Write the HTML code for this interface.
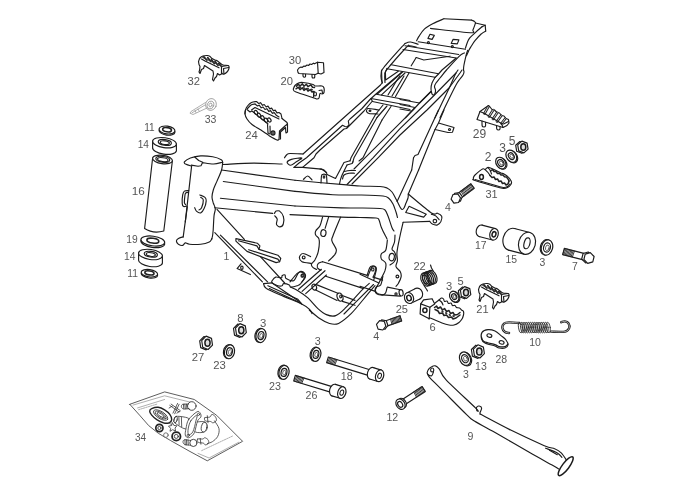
<!DOCTYPE html>
<html><head><meta charset="utf-8"><title>Frame</title>
<style>html,body{margin:0;padding:0;background:#fff}body{width:700px;height:479px;overflow:hidden}svg{display:block;will-change:transform}
text{font-family:"Liberation Sans",sans-serif;fill:#555}
path,ellipse,circle,line{stroke-linecap:round;stroke-linejoin:round}
.l{fill:none;stroke:#1c1c1c;stroke-width:1.15}
.f{fill:#fff;stroke:#1c1c1c;stroke-width:1.15}
.t{fill:none;stroke:#333;stroke-width:.8}
.ft{fill:#fff;stroke:#333;stroke-width:.8}
.g{fill:none;stroke:#9a9a9a;stroke-width:.8}
.k{fill:#333;stroke:none}
</style></head><body>
<svg width="700" height="479" viewBox="0 0 700 479">
<path class="l" d="M191.6,166.1 C190.7,165.8 187.3,165 186.1,164.3 C184.9,163.7 183.7,163 184.4,161.9 C185.1,160.9 187.7,159 190.4,158 C193.1,157 197,156.1 200.7,155.9 C204.4,155.7 209.3,156.2 212.7,156.8 C216.1,157.4 219.6,158.8 221.3,159.7 C222.9,160.6 222.4,161.9 222.7,162.3"/>
<path class="l" d="M194.7,157 L198.7,160.5 L202.7,162.2 L201,165.7 L198.1,166.2 L191.2,165.1"/>
<path class="l" d="M202.5,162.6 C204.3,162.8 210.3,164.1 213.6,164 C216.9,163.9 220.9,162.6 222.3,162.3"/>
<path class="l" d="M191.6,166.1 L185.3,221.9"/>
<path class="l" d="M222.7,162.3 C222.5,163.6 222.5,166.9 221.6,170 C220.7,173.1 218.4,177.8 217,181.1 C215.6,184.4 214.1,187.3 213.3,190 C212.5,192.7 212,194.8 212,197 C212,199.2 212.8,201 213.3,203 C213.9,205 215.2,206.7 215.3,208.9 C215.4,211.1 214.3,212.5 214,216 C213.7,219.5 213.4,226.7 213.2,230 C212.9,233.3 212.8,234.4 212.5,236 C212.2,237.6 211.8,238.9 211.6,239.5"/>
<path class="l" d="M187.3,206.9 L183.2,236.9"/>
<path class="l" d="M183.2,236.9 C182.4,237.1 179.6,237.9 178.4,238.6 C177.3,239.3 176.4,240.2 176.4,241.1 C176.4,242.1 177.4,243.5 178.4,244.2 C179.5,244.9 181.6,245.7 182.7,245.4 C183.9,245.2 184.1,243.1 185.3,242.9 C186.4,242.7 187,244 189.6,244.2 C192.1,244.5 197.4,244.6 200.7,244.2 C204,243.9 207.4,242.9 209.3,242 C211.1,241.1 211.4,239.1 211.9,238.6"/>
<path class="l" d="M188.7,190.6 C188,190.7 185.4,190.4 184.4,191.1 C183.4,191.8 183.1,192.8 182.7,194.9 C182.3,196.9 182.1,201.5 182.2,203.4 C182.3,205.4 182.8,206.1 183.6,206.5 C184.4,206.9 186.4,206.1 187,206"/>
<path class="l" d="M188.4,192.3 C187.9,192.4 186.2,192.4 185.6,193.1 C185,193.9 185,195 184.8,196.6 C184.6,198.1 184.3,201.2 184.4,202.6 C184.6,203.9 185.4,204.4 185.6,204.8"/>
<path class="l" d="M199.9,194.9 C200.7,195.3 203.9,196.4 205,197.4 C206.1,198.4 206.3,199 206.2,200.9 C206.1,202.7 205.1,206.6 204.1,208.6 C203.2,210.6 202,212.4 200.7,212.9 C199.4,213.3 197.4,212 196.4,211.1 C195.4,210.3 195,208.3 194.7,207.7"/>
<path class="l" d="M200.7,197.4 C201.1,197.9 203.1,198.3 203.3,200 C203.4,201.7 202.3,206.1 201.6,207.7 C200.9,209.4 199.4,209.6 199,209.9"/>
<path class="l" d="M222.7,164.5 C227.9,164.3 243.9,163.2 253.9,163.1 C263.8,163.1 277.4,163.9 282.1,164"/>
<path class="l" d="M221.6,170 L295,180.3"/>
<path class="l" d="M223.3,181.5 L295,191.4"/>
<path class="l" d="M220.4,198.3 L295,206"/>
<path class="l" d="M214.8,207.7 L272.7,213.4"/>
<path class="l" d="M295,180.3 C303.6,181.1 335.8,184 346.6,184.9 C357.4,185.8 354.4,185.7 360,186 C365.6,186.3 375.5,186.2 380,186.5 C384.5,186.8 385,187.1 387,188 C389,188.9 390.5,190.2 392,192 C393.5,193.8 394.7,196.5 396,199 C397.3,201.5 399,205.2 400,207 C401,208.8 401.3,209.3 402,209.5 C402.7,209.7 403.3,209.1 404,208 C404.7,206.9 405.3,204.7 406,203 C406.7,201.3 407.6,199.5 408,198 C408.4,196.5 408.2,194.7 408.3,194"/>
<path class="l" d="M295,191.4 C301.3,191.9 322.1,194.1 332.9,194.7 C343.7,195.3 351.6,194.8 360,195 C368.4,195.2 378.2,195.4 383,196 C387.8,196.6 387.3,197.2 389,198.5 C390.7,199.8 391.8,201.8 393,204 C394.2,206.2 395.2,209.8 396,212 C396.8,214.2 397.2,216.6 397.5,217.5"/>
<path class="l" d="M217,209.4 L244.4,239.3"/>
<path class="l" d="M214.8,232.6 L262.4,281.9"/>
<path class="l" d="M220.4,235.1 L267.6,281.9"/>
<path class="l" d="M241,263.8 L237.1,268.6 L250.4,274.6"/>
<path class="f" d="M235.9,238.6 L257.3,243.2 L259.9,245.9 L259,249.4 L277.9,255.2 L280.8,258.3 L279.6,261.7 L276.1,262.6 L247,251.4 L235.9,241.1Z"/>
<ellipse class="l" cx="241.9" cy="267.7" rx="1.2" ry="1.6"/>
<path class="l" d="M274.4,213.4 C274.7,213 275.3,211.5 276.1,211.1 C277,210.8 278.4,210.3 279.6,211.1 C280.8,212 282.7,214.1 283.3,216.3 C284,218.4 283.9,222.2 283.3,224 C282.8,225.8 281.1,226.9 279.9,226.9 C278.8,227 276.9,225.6 276.5,224.3 C276,223.1 277.5,220.6 277.2,219.2 C276.9,217.8 275.2,216.3 274.8,215.8"/>
<path class="l" d="M238.4,240.8 L256.9,245.9 L259,249.4"/>
<path class="l" d="M248.7,249.7 L277.9,259.1 L279.6,261.7"/>
<path class="l" d="M411.7,170 L397.1,201.4"/>
<path class="l" d="M418.6,170 L408.3,194"/>
<path class="l" d="M408.3,194 C412.1,197.1 426.6,209.7 431.4,212.9 C436.3,216.1 435.7,212.6 437.4,213.2 C439.1,213.8 441.1,214.9 441.7,216.3 C442.3,217.7 441.6,220 440.9,221.4 C440.1,222.9 438.9,224.4 437.4,224.9 C436,225.3 433.6,224.6 432.3,224 C431,223.4 430.1,221.9 429.7,221.4"/>
<path class="l" d="M429.7,221.4 L403.1,222.3"/>
<path class="l" d="M409.1,206.3 L426.3,214.2 L423.7,217.1 L405.7,212.5Z"/>
<ellipse class="l" cx="434.9" cy="221.1" rx="1.8" ry="1.8"/>
<path class="l" d="M431.4,214.2 C432.1,214.5 434.4,215 435.7,215.9 C437,216.9 438.6,219.1 439.1,219.7"/>
<path class="l" d="M295,206 C302.7,206.3 330.6,207.6 341.4,207.9 C352.2,208.2 353.6,207.9 360,208 C366.4,208.1 375.8,208.2 380,208.5 C384.2,208.8 383.7,208.8 385,210 C386.3,211.2 386.8,213 388,216 C389.2,219 391,225.3 392,227.8 C393,230.3 393.7,230.5 394,231"/>
<path class="l" d="M395,235 C394.9,236.2 395,239.7 394.5,242 C394,244.3 392,247.3 392,249 C392,250.7 393.8,250.7 394.5,252 C395.2,253.3 396.1,255.3 396,257 C395.9,258.7 395,260.7 394,262 C393,263.3 390.7,264.5 390,265"/>
<path class="l" d="M290,214.6 C298.6,215 329.7,216.6 341.4,217.1 C353.1,217.6 354.2,217.3 360,217.5 C365.8,217.7 372.8,217.6 376,218 C379.2,218.4 378.1,218.4 379,220 C379.9,221.6 380.2,224.6 381.5,227.8 C382.8,231 386.1,237.1 387,239"/>
<path class="l" d="M322.6,217.1 C322.1,218.6 321.1,223.4 320,225.7 C318.9,228 316.4,229.3 315.7,230.9 C315,232.4 315.1,233.7 315.7,235.1 C316.3,236.6 318.7,236.7 319.1,239.4 C319.6,242.1 319,248 318.3,251.4 C317.6,254.9 316,257.9 314.9,260 C313.7,262.1 311.7,263 311.4,264.3 C311.1,265.6 312.3,266.9 313.1,267.7 C314,268.6 316,269.1 316.6,269.4"/>
<path class="l" d="M340.6,217.1 C339.3,220.3 334.3,232 332.9,236 C331.4,240 331.4,238.9 332,241.1 C332.6,243.4 335.9,247.4 336.3,249.7 C336.7,252 335.9,253 334.6,254.9 C333.3,256.7 329.6,259.9 328.6,260.9"/>
<path class="l" d="M328.6,217.1 L325.1,228.3"/>
<ellipse class="l" cx="323.4" cy="233.1" rx="2.6" ry="3.4" transform="rotate(10 323.4 233.1)"/>
<path class="l" d="M310.6,256.6 C309.3,256.1 304.7,253.3 302.9,253.5 C301,253.6 299.6,256.1 299.4,257.4 C299.3,258.8 300,260.7 302,261.7 C304,262.7 309.9,263.1 311.4,263.4"/>
<ellipse class="l" cx="303.7" cy="257.4" rx="1.4" ry="1.4"/>
<path class="l" d="M322.6,261.7 L367.1,275.4"/>
<path class="l" d="M367.1,275.4 C367.6,274.1 368.9,269.3 369.7,267.7 C370.6,266.1 371.4,266.1 372.3,266 C373.2,265.9 374.6,266.5 375.2,267.2 C375.8,267.9 376.1,268.6 375.7,270.3 C375.4,271.9 373.6,276 373.1,277.1"/>
<ellipse class="l" cx="372.8" cy="269.4" rx="1.2" ry="1.6"/>
<path class="l" d="M373.1,277.1 L382.6,280.1"/>
<path class="l" d="M322.6,261.7 C321.9,262 319.1,262.4 318.3,263.4 C317.4,264.4 317,266.6 317.4,267.7 C317.9,268.9 320.3,269.9 320.9,270.3"/>
<path class="l" d="M290,281.9 C291.1,280.6 295.1,275.4 296.9,273.7 C298.6,272.1 299,272 300.3,272 C301.6,272 303.7,272.9 304.6,273.7 C305.4,274.6 305.9,275.8 305.4,277.1 C305,278.5 302.6,281.1 302,281.9"/>
<ellipse class="l" cx="302.9" cy="275.4" rx="1.2" ry="1.6"/>
<path class="l" d="M387.4,240 C387.1,241.7 386.7,248 385.7,250.3 C384.7,252.6 382.1,252.3 381.4,253.7 C380.7,255.1 380.7,257.3 381.4,258.9 C382.1,260.4 385.1,261.1 385.7,263.1 C386.3,265.1 386,267.6 384.9,270.9 C383.7,274.1 380.4,279.7 378.9,282.9 C377.3,286 375.7,288 375.4,289.7 C375.1,291.4 376,292.3 377.1,293.1 C378.3,294 381.4,294.6 382.3,294.9"/>
<path class="l" d="M403.1,222.3 C402.6,224.6 401,231.1 400,236 C399,240.9 397.4,247.9 397,252 C396.6,256.1 397.6,258.2 397.4,260.6 C397.2,263 395.5,264.8 396,266.6 C396.5,268.5 399.4,270 400.3,271.7 C401.2,273.4 401.4,275 401.1,276.9 C400.8,278.8 399.5,281.3 398.6,282.9 C397.8,284.5 396.4,285.7 396,286.3"/>
<ellipse class="l" cx="391.7" cy="257.1" rx="2.6" ry="3.8" transform="rotate(10 391.7 257.1)"/>
<ellipse class="l" cx="397.4" cy="276.5" rx="1.4" ry="1.4"/>
<path class="l" d="M387.4,287.1 L400.3,289.7"/>
<path class="l" d="M382.3,294.9 L400.3,296.1"/>
<ellipse class="l" cx="401.1" cy="292.8" rx="2" ry="3.2" transform="rotate(-10 401.1 292.8)"/>
<ellipse class="l" cx="396" cy="294" rx="1.1" ry="1.1"/>
<path class="l" d="M360,274.3 L378.9,282.9"/>
<path class="l" d="M360,286.3 L375.4,291.4"/>
<path class="l" d="M367.7,276.9 C368.3,275.4 370.3,270.1 371.1,268.3 C372,266.5 372.1,266.3 372.9,266.1 C373.6,265.9 375.2,266.4 375.8,267.1 C376.3,267.7 376.6,267.8 376.3,270 C375.9,272.2 374.1,278.6 373.7,280.3"/>
<path class="l" d="M260.4,256.6 L284.7,283"/>
<path class="l" d="M272.1,280.7 C272.7,279.8 274.2,277.6 275.7,277.1 C277.3,276.7 280.4,278.1 281.4,277.9 C282.5,277.6 281.5,276.2 282.1,275.7 C282.7,275.2 284.3,274.5 285,275 C285.7,275.5 284.7,277.6 286.1,278.6 C287.6,279.5 291.6,281.5 293.6,280.7 C295.5,279.9 296.7,275.1 297.9,273.6 C299,272 299.6,271.5 300.7,271.4 C301.8,271.3 303.6,272 304.3,272.9 C305,273.7 305.6,274.6 305,276.4 C304.4,278.2 302,282 300.7,283.6 C299.4,285.1 298.8,285.1 297.1,285.7 C295.5,286.3 292,287.3 290.7,287.1 C289.4,287 290.5,285.6 289.3,285 C288.1,284.4 284.8,283.5 283.6,283.6 C282.4,283.7 283.1,285.4 282.1,285.7 C281.2,286.1 279.5,286.2 277.9,285.7 C276.2,285.2 273.1,283.7 272.1,282.9 C271.2,282 271.5,281.7 272.1,280.7Z"/>
<ellipse class="l" cx="302.1" cy="275.7" rx="1.1" ry="1.5"/>
<path class="l" d="M263.6,283.6 C264,284.4 263.1,286.4 266.4,288.6 C269.8,290.7 277.6,293.8 283.6,296.4 C289.5,299 297.9,302.1 302.1,304.3 C306.4,306.4 307.6,307.7 309.3,309.3 C311,310.8 311.7,312.9 312.1,313.6"/>
<path class="l" d="M267.9,285.7 L297.9,299.3 L302.1,304.3"/>
<path class="l" d="M272.1,282.9 L299.3,301.4"/>
<path class="l" d="M263.6,283.6 L272.1,282.9"/>
<path class="l" d="M269.3,288.6 L300.7,302.9"/>
<path class="l" d="M290.7,287.1 C291.9,287.7 295,288.9 297.9,290.7 C300.8,292.5 304.6,294.9 307.9,297.9 C311.2,300.9 314.8,305.8 317.9,308.6 C321,311.4 323.4,313.4 326.4,314.6 C329.4,315.8 332.5,316.8 335.7,315.6 C338.9,314.5 341.4,311.9 345.7,307.7 C350,303.5 357.5,294.7 361.4,290.6 C365.3,286.6 368,284.6 369.3,283.4"/>
<path class="l" d="M309.3,310 C311,311.4 315.9,316.1 319.3,318.3 C322.7,320.6 326.3,322.6 329.5,323.5 C332.7,324.4 335,325.1 338.6,323.4 C342.2,321.7 346.6,318.1 351.4,313.4 C356.1,308.6 363.2,299.5 367.1,294.9 C371,290.3 373.7,287.2 375,285.6"/>
<path class="l" d="M298.6,289.3 L321.4,269.3"/>
<path class="l" d="M302.1,291.4 L325,270.7"/>
<path class="l" d="M305.7,293.6 L326.4,275"/>
<ellipse class="l" cx="314.3" cy="287.1" rx="2.2" ry="3" transform="rotate(-20 314.3 287.1)"/>
<ellipse class="l" cx="340" cy="297.1" rx="2.8" ry="4.2" transform="rotate(-20 340 297.1)"/>
<path class="l" d="M316.4,284.6 L337.9,293.3"/>
<path class="l" d="M315.7,290 L337.1,300.4"/>
<path class="l" d="M342.9,295.7 L355,300.4"/>
<path class="l" d="M342.4,301.4 L355,305.3"/>
<ellipse class="l" cx="340.7" cy="296.4" rx="1" ry="1.4"/>
<path class="l" d="M344,314 L354,303.8 L373.5,284.5"/>
<path class="l" d="M325.7,276.3 L362.9,288.4"/>
<path class="l" d="M382.9,276.3 C382.5,277.7 381.8,283.1 380.7,284.9 C379.6,286.6 377.4,286 376.4,287 C375.5,288 374.9,289.4 375,290.6 C375.1,291.8 375.8,293.4 377.1,294.1 C378.5,294.9 381.4,295.1 382.9,294.9 C384.3,294.6 385,293.9 385.7,292.7 C386.4,291.5 386.9,288.5 387.1,287.7"/>
<path class="l" d="M416.6,40.7 C417.1,39.9 417.9,37.9 419.3,35.9 C420.6,33.9 422.3,31 424.6,28.9 C427,26.9 430,25.3 433.2,23.6 C436.4,21.9 442.1,19.6 443.9,18.8"/>
<path class="l" d="M443.9,18.8 L471.8,20.1"/>
<path class="l" d="M471.8,20.1 C472.2,20.4 473.8,20.9 474.5,21.4 C475.1,21.9 475.4,22.8 475.5,23"/>
<path class="l" d="M475.5,23 L485.2,25.2 L485.7,31.1"/>
<path class="l" d="M485.7,31.1 C485,31.5 483.2,32.1 481.4,33.8 C479.6,35.4 476.8,38.5 475,40.7 C473.2,42.9 471.8,45.4 470.7,47.1 C469.6,48.8 469.3,49.5 468.6,50.9 C467.9,52.3 466.8,54.9 466.4,55.7"/>
<path class="l" d="M418.2,41.8 L465.4,49.3"/>
<path class="l" d="M430.5,28.4 C437.1,29.1 463.1,32.4 470.2,32.7 C477.2,32.9 472,31.6 472.9,30 C473.8,28.4 475.1,24.2 475.5,23"/>
<path class="l" d="M485.2,25.2 L482,26.8"/>
<path class="l" d="M482,26.8 C480.4,28.1 475.1,32.7 472.9,34.8 C470.6,37 469.8,37.4 468.6,39.6 C467.3,41.9 465.9,46.8 465.4,48.2"/>
<path class="l" d="M430,34.3 L434.3,35.4 L432.1,39.4 L427.9,38.4Z"/>
<path class="l" d="M453,39.4 L458.9,39.9 L457.3,43.9 L451.2,43.4Z"/>
<ellipse class="l" cx="428.4" cy="42.6" rx="1" ry="1"/>
<ellipse class="l" cx="452.3" cy="46.6" rx="1" ry="1"/>
<path class="l" d="M418.2,44.2 C417,43.9 412.6,42.2 410.5,42 C408.4,41.8 407.1,42.5 405.8,43.2 C404.4,44 406.2,42.2 402.5,46.2 C398.8,50.3 387.3,63 383.8,67.5 C380.2,72 381.7,71.1 381.2,73 C380.8,74.9 381,77.1 381.2,78.8 C381.5,80.4 382.3,82.3 382.5,83"/>
<path class="l" d="M416.2,47 C415.1,46.8 411.2,45.7 409.5,45.8 C407.8,45.8 410,43.5 406.2,47.5 C402.5,51.5 390.6,64.9 387,69.5 C383.4,74.1 385.1,72.8 384.8,75 C384.4,77.2 385,81.2 385,82.5"/>
<path class="l" d="M464.3,52.9 C463.4,53.5 462.1,53.4 459.1,56.3 C456.1,59.1 449.7,66.4 446.5,70 C443.3,73.6 441.8,75.8 440,78 C438.2,80.2 436.9,81.6 436,83 C435.1,84.4 434.6,85.3 434.5,86.5 C434.4,87.7 435.4,88.8 435.5,90 C435.6,91.2 435.3,92.7 435,93.5 C434.7,94.3 434,94.9 433.5,95 C433,95.1 432.4,95 432,94 C431.6,93 431,90.8 431,89 C431,87.2 431.3,84.9 432,83 C432.7,81.1 434.5,78.4 435,77.5"/>
<path class="l" d="M435,77.5 L438.5,74 L442,70 L456.2,58"/>
<path class="l" d="M467.7,50.3 C467.4,51.1 466.8,52.4 466.2,55 C465.6,57.6 464.2,63.5 463.8,66 C463.4,68.5 463.6,69.3 463.5,70"/>
<path class="l" d="M405,45.8 L458.8,54.5"/>
<path class="l" d="M403,49.5 L456.2,58"/>
<path class="l" d="M391.3,64.7 L438.5,73.7"/>
<path class="l" d="M387,68.7 L435,77.3"/>
<path class="l" d="M387.1,68.3 L385.4,72.1 L385.6,79.9 L398.3,71.3"/>
<path class="l" d="M416.2,57.5 L423.8,60 L450,56.2"/>
<path class="l" d="M416.2,57.5 L411.2,65.8"/>
<path class="l" d="M284.5,157.8 C284.9,157.2 286.1,155.2 287,154.5 C287.9,153.8 287.3,153.6 290,153.5 C292.7,153.4 300.8,153.9 303,154"/>
<path class="l" d="M303,154 L380.5,85 L382,83 L381.5,70"/>
<path class="l" d="M294,167.4 L299,163 L306.5,157.8 L342.5,125.3 L345,126.5 L347,127 L349,125 L348.3,121 L350,119 L362,108.5 L370,99.5 L376,94 L402,72"/>
<path class="l" d="M302.6,167.4 L309,162 L314,157.8 L316,154 L320,150 L344,129 L346.5,128.5 L350,125 L364,111 L372,101.5"/>
<path class="l" d="M376.5,94.3 L410,100.5"/>
<path class="l" d="M371,98.5 L410,105.5"/>
<path class="l" d="M372.5,101.5 L410,109.5"/>
<path class="l" d="M371,98.5 L372.5,101.5"/>
<path class="l" d="M400,99.5 L419.5,103 L431,91.5"/>
<path class="l" d="M400,104.5 L415,107.5 L405.5,117.8"/>
<path class="l" d="M400,109 L411,111"/>
<path class="l" d="M379,110 C377.2,109.8 370.5,108.6 368.5,108.5 C366.5,108.4 367.3,109 367,109.5 C366.7,110 366.2,110.8 366.5,111.5 C366.8,112.2 367.1,113.1 369,113.5 C370.9,113.9 376.5,113.9 378,114"/>
<ellipse class="l" cx="370" cy="110.7" rx="0.9" ry="0.7"/>
<path class="l" d="M377.5,93.8 L402.5,72"/>
<path class="l" d="M381.5,94.8 L405,73"/>
<path class="l" d="M388,95 L397,80 L400,76"/>
<path class="l" d="M392,96 L404,76"/>
<path class="l" d="M395.5,96.5 L409,73"/>
<path class="l" d="M375.5,114.5 L351,157.8 L350,161"/>
<path class="l" d="M377,117.5 L354,157.8 L352.5,163"/>
<path class="l" d="M382,120 L363,157.8 L359,161"/>
<path class="l" d="M383,105 L375.5,114.5"/>
<path class="l" d="M387,106 L377,117.5"/>
<path class="l" d="M391,106.5 L382,120"/>
<path class="l" d="M431,91.5 L419.5,103 L413,110 L400,123.2 L365,157.8 L354,169"/>
<path class="l" d="M458,70 L456,73 L433,96.5 L419.2,110 L400,128.7 L373,157.8 L347,184.5"/>
<path class="l" d="M462,70 L460,73 L449,88 L427,110 L400,135 L378,157.8 L352,184"/>
<path class="l" d="M435,117.8 C436.2,115.3 439.7,107.9 442,103 C444.3,98.1 446.9,93 449,88.5 C451.1,84 453.3,78.6 454.5,76 C455.7,73.4 455.8,73.5 456,73"/>
<path class="l" d="M440,117.8 C441.2,115.3 444.3,108.5 447,103 C449.7,97.5 453.8,89 456,85 C458.2,81 458.8,80.7 460,79 C461.2,77.3 462.3,76.2 463,75 C463.7,73.8 463.9,72.8 464,72 C464.1,71.2 463.6,70.3 463.5,70"/>
<path class="l" d="M438.5,110 L418,154.5 L415,155.5 L413.5,157.8"/>
<path class="l" d="M413.5,157.8 L411.7,170"/>
<path class="l" d="M423.5,157.8 L418.6,170"/>
<path class="l" d="M444,110 L438.5,123 L435,129.5 L423.5,157.8"/>
<path class="l" d="M438.5,123 L454,127.5 L452.5,132.2 L448,132.5 L435,129.5"/>
<ellipse class="l" cx="449.5" cy="129.5" rx="1" ry="1"/>
<path class="l" d="M327,174.5 L335.5,178.5 L344,162.5 L347.5,161.5 L350,160.8"/>
<path class="l" d="M339.5,184 C339.8,182.8 340.2,179.7 341.5,176.5 C342.8,173.3 346.1,166.9 347,165"/>
<path class="l" d="M347,165 L352,163.5 L353,161.8"/>
<path class="l" d="M344.5,171.5 C345.4,171.3 348.2,170.7 350,170.5 C351.8,170.3 354.6,170.5 355.5,170.5"/>
<path class="l" d="M342.5,179 C342.8,178.3 342.9,176 344,175 C345.1,174 347.2,173.5 349,173.2 C350.8,172.9 353.6,173.2 354.5,173.2"/>
<path class="l" d="M320,169 C320.7,169.2 322.9,169.3 324,170 C325.1,170.7 326,172.2 326.5,173 C327,173.8 326.9,174.2 327,174.5"/>
<path class="l" d="M321,183 C321.1,181.8 321.2,177.4 321.5,176 C321.8,174.6 321.8,174.8 322.5,174.5 C323.2,174.2 324.8,174.2 325.5,174.5 C326.2,174.8 326.2,174.6 326.5,176 C326.8,177.4 326.9,181.8 327,183"/>
<ellipse class="l" cx="324" cy="177" rx="0.8" ry="1.2"/>
<path class="l" d="M287.1,162.3 C287.3,161.3 289,160.1 291.4,159.4 C293.9,158.7 301,157.5 301.7,158 C302.4,158.5 297.6,161.1 295.7,162.3 C293.9,163.5 292,165.2 290.6,165.2 C289.1,165.2 287,163.3 287.1,162.3Z"/>
<path class="l" d="M294,167.4 L302.6,167.4 L321.4,169.1 L326.6,172.6"/>
<path class="l" d="M303.4,179.4 C304.1,178.9 306.3,175.9 307.7,176 C309.1,176.1 311.3,179.3 312,179.9"/>
<ellipse class="f" cx="167" cy="131.2" rx="8" ry="3.9" transform="rotate(8 167 131.2)"/>
<ellipse class="f" cx="167" cy="130" rx="8" ry="3.9" transform="rotate(8 167 130)"/>
<ellipse cx="167" cy="129.7" rx="4.4" ry="2.1" transform="rotate(8 167 130)" fill="#fff" stroke="#222" stroke-width="1.6"/>
<path class="f" d="M152.6,141 L152.6,147.5 A12,5 8 0 0 176.4,150.9 L176.4,144.4 Z"/>
<ellipse class="f" cx="164.5" cy="142.7" rx="12" ry="5" transform="rotate(8 164.5 142.7)"/>
<ellipse class="l" cx="164.8" cy="142.4" rx="6.6" ry="2.8" transform="rotate(8 164.8 142.4)"/>
<ellipse class="l" cx="164.8" cy="142.7" rx="4.6" ry="1.8" transform="rotate(8 164.8 142.7)"/>
<path class="f" d="M152.6,158.3 L144.6,228.5 Q153,234 163.8,231 L172.4,160.7 Z"/>
<ellipse class="f" cx="162.5" cy="159.5" rx="10" ry="4.2" transform="rotate(8 162.5 159.5)"/>
<ellipse class="l" cx="162.8" cy="159.3" rx="7" ry="2.8" transform="rotate(8 162.8 159.3)"/>
<ellipse class="l" cx="162.8" cy="159.6" rx="5.3" ry="1.9" transform="rotate(8 162.8 159.6)"/>
<ellipse class="f" cx="152.8" cy="242.6" rx="12" ry="4.8" transform="rotate(8 152.8 242.6)"/>
<ellipse class="f" cx="152.8" cy="241" rx="12" ry="4.8" transform="rotate(8 152.8 241)"/>
<ellipse cx="152.8" cy="240.7" rx="6" ry="2.4" transform="rotate(8 152.8 241)" fill="#fff" stroke="#222" stroke-width="1.6"/>
<path class="f" d="M138.6,252.8 L138.6,259.8 A12,5 8 0 0 162.4,263.2 L162.4,256.2 Z"/>
<ellipse class="f" cx="150.5" cy="254.5" rx="12" ry="5" transform="rotate(8 150.5 254.5)"/>
<ellipse class="l" cx="150.8" cy="254.2" rx="6.6" ry="2.8" transform="rotate(8 150.8 254.2)"/>
<ellipse class="l" cx="150.8" cy="254.5" rx="4.6" ry="1.8" transform="rotate(8 150.8 254.5)"/>
<ellipse class="f" cx="149.4" cy="274.4" rx="8.3" ry="3.6" transform="rotate(8 149.4 274.4)"/>
<ellipse class="f" cx="149.4" cy="273.2" rx="8.3" ry="3.6" transform="rotate(8 149.4 273.2)"/>
<ellipse cx="149.4" cy="272.9" rx="4.6" ry="2" transform="rotate(8 149.4 273.2)" fill="#fff" stroke="#222" stroke-width="1.6"/>
<path class="l" d="M198.5,61.5 C198.8,60.9 199.2,58.9 200,58 C200.8,57.1 201.8,56.4 203,56 C204.2,55.6 206.3,55.4 207.5,55.5 C208.7,55.6 209.2,56 210,56.5 C210.8,57 211.2,57.9 212,58.5 C212.8,59.1 214.1,59.6 215,60 C215.9,60.4 216.7,60.5 217.5,61 C218.3,61.5 219.1,62.3 220,63 C220.9,63.7 221.7,64.6 223,65 C224.3,65.4 227,65.2 228,65.5 C229,65.8 228.9,65.9 229,66.5 C229.1,67.1 229.1,68.1 228.8,69 C228.5,69.9 227.8,71.2 227,72 C226.2,72.8 224.8,73.8 224,74 C223.2,74.2 222.4,73.9 222,73.5 C221.6,73.1 221.6,71.8 221.5,71.5"/>
<path class="l" d="M198.5,61.5 L199,64.5 L200,66.5 L199.5,70.5 L199,72 L200,73.5 L201.5,69.5 L203.5,68.5 L204.5,65.5 L206,66.5 L213,71 L213.5,74 L212.5,79.5 L213.5,81 L215,78 L216.5,76.5 L217.5,73.5 L219.5,75 L221.5,74 L221.5,66.5 L228,65.5"/>
<path d="M203.8,56.8 L206.8,60" fill="none" stroke="#222" stroke-width="1.8"/>
<path d="M207.8,57.8 L210.8,61.5" fill="none" stroke="#222" stroke-width="1.8"/>
<path d="M211.5,59.8 L214.3,63.5" fill="none" stroke="#222" stroke-width="1.8"/>
<path d="M215,61.5 L218,65.2" fill="none" stroke="#222" stroke-width="1.8"/>
<path d="M218.8,63.5 L221.5,66.5" fill="none" stroke="#222" stroke-width="1.8"/>
<path class="l" d="M201.5,59 L205,61 L219,67.8"/>
<path class="t" d="M202.5,57.5 L220,65.5"/>
<path class="l" d="M224,74 L223.5,68.5 L228.8,67.5"/>
<path class="l" d="M298,72.5 L297.5,70 L299,68 L301,67 L302,67.5 L304,66 L305,66.5 L307,65 L308.5,65.5 L310,64 L311.5,64.5 L313.5,63.2 L314.5,63.8 L317.5,62.2 L323.5,62.8 L324,72.5 L321,74 L318,73.3 L315.5,74.5 L299,73.5Z"/>
<path class="l" d="M317.5,62.2 L318.2,73.3"/>
<path class="l" d="M303,74 C303,74.4 302.9,76 303.2,76.5 C303.4,77 304.1,77.2 304.5,77.2 C304.9,77.2 305.3,77 305.5,76.5 C305.7,76 305.5,74.6 305.5,74.2"/>
<path class="l" d="M312,74.5 C312,75 311.9,76.9 312.2,77.5 C312.4,78.1 313.1,78 313.5,78 C313.9,78 314.5,77.8 314.7,77.2 C314.9,76.7 314.7,75.1 314.7,74.7"/>
<path class="l" d="M293.5,88.5 C293.8,87.8 294.2,86.4 295,85.5 C295.8,84.6 297.2,83.5 298.5,83 C299.8,82.5 300.6,82.2 303,82.5 C305.4,82.8 311,83.9 313,84.5 C315,85.1 313.5,85.8 315,86 C316.5,86.2 320.5,85.7 322,86 C323.5,86.3 323.7,86.9 324,88 C324.3,89.1 324.3,91.5 324,92.5 C323.7,93.5 322.7,93.8 322,94 C321.3,94.2 320.5,92.8 320,93.5 C319.5,94.2 319.5,97.1 319,98 C318.5,98.9 317.8,99 317,99 C316.2,99 317.5,99.2 314,98 C310.5,96.8 299.4,93.3 296,92 C292.6,90.7 293.9,90.6 293.5,90 C293.1,89.4 293.2,89.2 293.5,88.5Z"/>
<path d="M296.5,86.2 L298.3,84 L300,86.2 L302.3,83.8 L304,86.2 L306.3,84.2 L308,86.6 L310.8,84.8 L312.5,87.2 L314.5,87.5" fill="none" stroke="#222" stroke-width="1.5"/>
<path d="M296,88.8 L298.3,87.2 L300,89.6 L302.3,87.8 L304,90.4 L306.3,88.6 L308,91.2 L310.3,89.6 L312,92 L314,91.5" fill="none" stroke="#222" stroke-width="1.5"/>
<ellipse class="k" cx="300" cy="87.5" rx="1.2" ry="0.9" transform="rotate(20 300 87.5)"/>
<ellipse class="k" cx="304" cy="88" rx="1.2" ry="0.9" transform="rotate(20 304 88)"/>
<ellipse class="k" cx="308" cy="88.8" rx="1.2" ry="0.9" transform="rotate(20 308 88.8)"/>
<ellipse class="k" cx="311.8" cy="89.6" rx="1.2" ry="0.9" transform="rotate(20 311.8 89.6)"/>
<ellipse class="l" cx="315" cy="94" rx="1.5" ry="2"/>
<path class="l" d="M314,91.5 L313.5,97"/>
<path class="l" d="M319,90.5 L322,90 L322.5,93.5"/>
<path class="l" d="M245,114 C245.1,113.3 245.1,111.3 245.5,110 C245.9,108.7 246.5,107.2 247.5,106 C248.5,104.8 250,103.2 251.5,102.5 C253,101.8 255.7,101.7 256.5,101.5"/>
<path class="l" d="M256.5,101.5 L258.8,103.6 L260.5,102.7 L262.5,105.3 L264.2,104.5 L266.2,107 L268,106.1 L269.8,108.9 L271.6,108.1 L273.5,110.8 L275.2,110.1 L277,112.9 L279,112.5 L281,114 L282,118.5"/>
<path class="l" d="M245.5,110 C245.4,110.7 244.8,112.5 245,114 C245.2,115.5 245.8,117.2 247,119 C248.2,120.8 249.8,122.8 252,124.5 C254.2,126.2 257.5,127.9 260,129.5 C262.5,131.1 265.4,132.9 267,134 C268.6,135.1 267.8,135 269.5,136 C271.2,137 275.4,139.4 277,140 C278.6,140.6 278.7,139.6 279,139.5"/>
<path class="l" d="M279,139.5 L279.5,131 L285,126 L287.5,124 L287.5,132 L286,133 L285.8,132 L285.5,127.5 L280.5,132 L280.5,139"/>
<path class="l" d="M282,118.5 L287,122.5 L287.5,124"/>
<path class="l" d="M247.5,108.5 C248.1,107.9 249.8,105.8 251,105 C252.2,104.2 254.3,104.2 255,104"/>
<path class="l" d="M255,104 L257.5,106 L259.2,105.2 L261.2,107.8 L263,107 L265,109.5 L266.8,108.7 L268.8,111.4 L270.5,110.6 L272.5,113.3 L274.2,112.6 L276.2,115.2 L279,117"/>
<path class="l" d="M251.5,110 L255,107.5 L279,119"/>
<path class="l" d="M247,109.5 L250,112 L252,111 L268,124"/>
<ellipse class="l" cx="256" cy="112.5" rx="1.5" ry="2.2" transform="rotate(-35 256 112.5)"/>
<ellipse class="l" cx="259" cy="115.2" rx="1.5" ry="2.2" transform="rotate(-35 259 115.2)"/>
<ellipse class="l" cx="262.5" cy="117.8" rx="1.5" ry="2.2" transform="rotate(-35 262.5 117.8)"/>
<ellipse class="l" cx="266" cy="120.3" rx="1.5" ry="2.2" transform="rotate(-35 266 120.3)"/>
<ellipse class="l" cx="269.3" cy="120" rx="1.5" ry="2.2" transform="rotate(-35 269.3 120)"/>
<path class="l" d="M267.5,124.5 L268,133 L270,134"/>
<path class="l" d="M270,126 L270.2,133"/>
<ellipse class="l" cx="273" cy="133" rx="2" ry="2.2"/>
<ellipse class="l" cx="273" cy="133" rx="1.1" ry="1.3"/>
<ellipse class="g" cx="211" cy="104.5" rx="5.3" ry="6" transform="rotate(20 211 104.5)"/>
<ellipse class="g" cx="210.5" cy="105" rx="3.2" ry="4" transform="rotate(20 210.5 105)"/>
<ellipse class="g" cx="210.5" cy="105" rx="1.5" ry="2" transform="rotate(20 210.5 105)"/>
<path class="g" d="M205.5,102.5 L191,111.5 L190,113.2 L193,114.5 L207,108"/>
<path class="g" d="M205,105 L192,112.8"/>
<path class="g" d="M195,110.5 L196,112.5"/>
<path class="g" d="M198,109 L199,110.8"/>
<path class="l" d="M477,119.5 L480,111.5 L488.5,105.5 L490,107 L492,109.5 L494.5,110 L497,112.5 L499.5,113 L501.5,115.5 L504,116 L506,118.5 L508.5,119.5 L509,123 L507,125.5 L503,127.5Z"/>
<path d="M488.2,106.8 L484.5,113.5" fill="none" stroke="#222" stroke-width="2.6" stroke-linecap="round"/>
<path d="M488.2,106.8 L484.5,113.5" fill="none" stroke="#fff" stroke-width="0.8" stroke-linecap="round"/>
<path d="M493.2,110 L489,116.5" fill="none" stroke="#222" stroke-width="2.6" stroke-linecap="round"/>
<path d="M493.2,110 L489,116.5" fill="none" stroke="#fff" stroke-width="0.8" stroke-linecap="round"/>
<path d="M497.2,112.8 L493,119" fill="none" stroke="#222" stroke-width="2.6" stroke-linecap="round"/>
<path d="M497.2,112.8 L493,119" fill="none" stroke="#fff" stroke-width="0.8" stroke-linecap="round"/>
<path d="M501.2,115.7 L497,121.5" fill="none" stroke="#222" stroke-width="2.6" stroke-linecap="round"/>
<path d="M501.2,115.7 L497,121.5" fill="none" stroke="#fff" stroke-width="0.8" stroke-linecap="round"/>
<path d="M505.2,118.7 L501.5,123.5" fill="none" stroke="#222" stroke-width="2.6" stroke-linecap="round"/>
<path d="M505.2,118.7 L501.5,123.5" fill="none" stroke="#fff" stroke-width="0.8" stroke-linecap="round"/>
<path class="l" d="M480,111.5 L484.5,113.5"/>
<path class="l" d="M484.5,113.5 L501.5,123.5 L503,127.5"/>
<path class="l" d="M503.5,124 L508.5,121.5"/>
<path class="l" d="M482,121 C482,121.8 481.9,125 482.2,126 C482.5,127 483.4,127 484,127 C484.6,127 485.2,126.8 485.5,126 C485.8,125.2 485.5,122.8 485.5,122.2"/>
<path class="l" d="M496.5,125.5 C496.6,126.1 496.5,128.2 496.8,129 C497.1,129.8 498,130 498.5,130 C499,130 499.8,129.5 500,129 C500.2,128.5 500,127.2 500,126.8"/>
<path class="f" d="M526.1,149.5 L521.9,153.3 L516.7,151.3 L515.7,145.3 L519.9,141.5 L525.1,143.5Z"/>
<path class="f" d="M528.1,149.1 L523.9,152.9 L518.7,150.9 L517.7,144.9 L521.9,141.1 L527.1,143.1Z"/>
<ellipse cx="523.3" cy="147" rx="2.5" ry="3.3" fill="#ddd" stroke="#1c1c1c" stroke-width="1.5"/>
<ellipse class="f" cx="512.3" cy="156.7" rx="4.8" ry="6.6" transform="rotate(-34 512.3 156.7)"/>
<ellipse cx="511.3" cy="156.2" rx="4.8" ry="6.6" transform="rotate(-34 511.3 156.2)" fill="#fff" stroke="#1c1c1c" stroke-width="1.2"/>
<ellipse cx="511.3" cy="156.2" rx="2.6" ry="3.6" transform="rotate(-34 511.3 156.2)" fill="#fff" stroke="#1c1c1c" stroke-width="1.2"/>
<ellipse cx="511.7" cy="156.4" rx="1.5" ry="2.2" transform="rotate(-34 511.3 156.2)" fill="none" stroke="#333" stroke-width="0.7"/>
<ellipse class="f" cx="501.8" cy="163.5" rx="4.6" ry="6.2" transform="rotate(-34 501.8 163.5)"/>
<ellipse cx="500.8" cy="163" rx="4.6" ry="6.2" transform="rotate(-34 500.8 163)" fill="#fff" stroke="#1c1c1c" stroke-width="1.2"/>
<ellipse cx="500.8" cy="163" rx="2.8" ry="3.7" transform="rotate(-34 500.8 163)" fill="#fff" stroke="#1c1c1c" stroke-width="1.2"/>
<ellipse cx="501.2" cy="163.2" rx="1.5" ry="2.2" transform="rotate(-34 500.8 163)" fill="none" stroke="#333" stroke-width="0.7"/>
<path class="f" d="M473.5,177.5 C473.8,176.8 473.5,176.4 475,175 C476.5,173.6 480.8,169.9 482.5,169 C484.2,168.1 484.2,169.8 485,169.5 C485.8,169.2 486.6,167.8 487.5,167.5 C488.4,167.2 489.2,167.6 490.5,168 C491.8,168.4 493.8,169.4 495,170 C496.2,170.6 497,171 498,171.5 C499,172 500,172.6 501,173 C502,173.4 503,173.5 504,174 C505,174.5 506.1,175.2 507,176 C507.9,176.8 508.8,177.5 509.5,178.5 C510.2,179.5 511.3,180.9 511.5,182 C511.7,183.1 511.2,184.1 510.5,185 C509.8,185.9 508.6,186.9 507.5,187.5 C506.4,188.1 505.4,188.5 504,188.5 C502.6,188.5 503.8,188.8 499,187.5 C494.2,186.2 479.2,181.9 475,180.5 C470.8,179.1 473.8,179.5 473.5,179 C473.2,178.5 473.2,178.2 473.5,177.5Z"/>
<path class="l" d="M475,179.5 C479,180.7 494.2,185.2 499,186.5 C503.8,187.8 502.6,187.5 504,187.5 C505.4,187.5 506.5,187.1 507.5,186.5 C508.5,185.9 509.6,184.4 510,184"/>
<ellipse cx="481.5" cy="177" rx="1.9" ry="2.4" fill="#fff" stroke="#1c1c1c" stroke-width="1.5"/>
<path d="M490.5,171 L492.5,169.5 L494,171.5 L496,171.5 L497.5,173.5 L499.5,173.2 L501,175 L503,175 L504.5,176.8 L506.5,177 L508,179 L509,181" fill="none" stroke="#222" stroke-width="1.5"/>
<path d="M490,175.5 L492,177.5 L494,177 L495.5,179.5 L497.5,179 L499,181.5 L501,181 L502.5,183.5 L504.5,183 L506,185 L508,184 L509,181" fill="none" stroke="#222" stroke-width="1.5"/>
<path class="l" d="M485,169.5 C485.5,170 487.2,171.5 488,172.5 C488.8,173.5 489.7,175 490,175.5"/>
<path class="l" d="M487.5,167.5 C487.9,167.9 489.3,168.9 490,170 C490.7,171.1 491.2,173.3 491.5,174"/>
<path class="f" d="M457.5,200.7 L474.2,188.2 L470.8,183.8 L454.1,196.3Z"/>
<path d="M463.8,196 L460.9,191.1 M464.8,195.2 L461.9,190.4 M465.8,194.5 L462.9,189.7 M466.8,193.7 L464,188.9 M467.8,193 L465,188.2 M468.8,192.2 L466,187.4 M469.8,191.5 L467,186.7 M470.8,190.7 L468,185.9 M471.8,190 L469,185.2 M472.8,189.3 L470,184.4 M473.8,188.5 L471,183.7 " fill="none" stroke="#222" stroke-width="0.9"/>
<path class="f" d="M462.3,196.6 L460.4,201.2 L455.7,201.8 L452.8,197.8 L454.7,193.2 L459.4,192.6Z"/>
<path class="f" d="M460.5,197.9 L458.6,202.5 L453.9,203.1 L451.1,199.1 L453,194.5 L457.7,193.9Z"/>
<ellipse class="f" cx="480.5" cy="230.8" rx="4.2" ry="5.9" transform="rotate(15 480.5 230.8)"/>
<path d="M479,236.5 L492.5,240 L495.5,228.6 L482,225.1Z" fill="#fff" stroke="none"/>
<path class="l" d="M479,236.5 L492.5,240 M482,225.1 L495.5,228.6"/>
<ellipse class="f" cx="494" cy="234.3" rx="4.2" ry="5.9" transform="rotate(15 494 234.3)"/>
<ellipse cx="494" cy="234.3" rx="1.9" ry="2.7" transform="rotate(15 494 234.3)" fill="#fff" stroke="#1c1c1c" stroke-width="1.5"/>
<ellipse class="f" cx="511.5" cy="239.3" rx="8.4" ry="11.2" transform="rotate(15 511.5 239.3)"/>
<path d="M508.6,250.1 L524.1,254.1 L529.9,232.5 L514.4,228.5Z" fill="#fff" stroke="none"/>
<path class="l" d="M508.6,250.1 L524.1,254.1 M514.4,228.5 L529.9,232.5"/>
<ellipse class="f" cx="527" cy="243.3" rx="8.4" ry="11.2" transform="rotate(15 527 243.3)"/>
<ellipse cx="527" cy="243.3" rx="2.9" ry="5.6" transform="rotate(15 527 243.3)" fill="#fff" stroke="#1c1c1c" stroke-width="1.2"/>
<ellipse class="f" cx="546" cy="247.2" rx="5.6" ry="7.8" transform="rotate(15 546 247.2)"/>
<ellipse cx="547" cy="247.5" rx="5.6" ry="7.8" transform="rotate(15 547 247.5)" fill="#fff" stroke="#1c1c1c" stroke-width="1.2"/>
<ellipse cx="547" cy="247.5" rx="3.4" ry="4.7" transform="rotate(15 547 247.5)" fill="#fff" stroke="#1c1c1c" stroke-width="1.2"/>
<ellipse cx="547.4" cy="247.7" rx="1.8" ry="2.8" transform="rotate(15 547 247.5)" fill="none" stroke="#333" stroke-width="0.7"/>
<path class="f" d="M589.8,254.9 L564.3,248.4 L562.7,254.6 L588.2,261.1Z"/>
<path d="M574.5,251 L572.3,257.1 M573.3,250.7 L571.1,256.7 M572.1,250.4 L569.9,256.4 M570.9,250.1 L568.7,256.1 M569.6,249.8 L567.5,255.8 M568.4,249.5 L566.3,255.5 M567.2,249.1 L565.1,255.2 M566,248.8 L563.8,254.9 M564.8,248.5 L562.6,254.6 " fill="none" stroke="#222" stroke-width="0.9"/>
<path class="f" d="M583.1,253.5 L588.2,252 L592,255.9 L590.7,261.4 L585.6,262.9 L581.7,259Z"/>
<path class="f" d="M585.2,254.1 L590.3,252.6 L594.1,256.5 L592.8,261.9 L587.7,263.4 L583.9,259.5Z"/>
<ellipse class="f" cx="425.5" cy="279.5" rx="4.3" ry="7" transform="rotate(-22 425.5 279.5)"/>
<ellipse class="l" cx="427.2" cy="278.9" rx="4.3" ry="7" transform="rotate(-22 427.2 278.9)"/>
<ellipse class="l" cx="428.9" cy="278.3" rx="4.3" ry="7" transform="rotate(-22 428.9 278.3)"/>
<ellipse class="l" cx="430.6" cy="277.7" rx="4.3" ry="7" transform="rotate(-22 430.6 277.7)"/>
<ellipse class="l" cx="432.3" cy="277.1" rx="4.3" ry="7" transform="rotate(-22 432.3 277.1)"/>
<ellipse class="l" cx="425.5" cy="279.5" rx="2.6" ry="4.6" transform="rotate(-22 425.5 279.5)"/>
<path class="l" d="M430.5,265 L431.5,268 L433.5,271.5"/>
<path class="l" d="M424,285.5 L427,290 L427.5,291"/>
<ellipse class="f" cx="418" cy="293.6" rx="4.5" ry="5.6" transform="rotate(-20 418 293.6)"/>
<path d="M419.9,298.9 L410.9,303.3 L407.1,292.7 L416.1,288.3Z" fill="#fff" stroke="none"/>
<path class="l" d="M419.9,298.9 L410.9,303.3 M416.1,288.3 L407.1,292.7"/>
<ellipse class="f" cx="409" cy="298" rx="4.5" ry="5.6" transform="rotate(-20 409 298)"/>
<ellipse cx="409" cy="298" rx="2.2" ry="2.8" transform="rotate(-20 409 298)" fill="#fff" stroke="#1c1c1c" stroke-width="1.5"/>
<ellipse class="f" cx="455.2" cy="297.1" rx="4.3" ry="5.7" transform="rotate(-30 455.2 297.1)"/>
<ellipse cx="454.2" cy="296.6" rx="4.3" ry="5.7" transform="rotate(-30 454.2 296.6)" fill="#fff" stroke="#1c1c1c" stroke-width="1.2"/>
<ellipse cx="454.2" cy="296.6" rx="2.4" ry="3.1" transform="rotate(-30 454.2 296.6)" fill="#fff" stroke="#1c1c1c" stroke-width="1.2"/>
<ellipse cx="454.6" cy="296.8" rx="1.3" ry="1.9" transform="rotate(-30 454.2 296.6)" fill="none" stroke="#333" stroke-width="0.7"/>
<path class="f" d="M468.8,295 L464.6,298.8 L459.4,296.8 L458.4,290.8 L462.6,287 L467.8,289Z"/>
<path class="f" d="M470.8,294.6 L466.6,298.4 L461.4,296.4 L460.4,290.4 L464.6,286.6 L469.8,288.6Z"/>
<ellipse cx="466" cy="292.5" rx="2.5" ry="3.3" fill="#ddd" stroke="#1c1c1c" stroke-width="1.5"/>
<path class="f" d="M434.5,303.5 C435.2,302.9 437.8,300.9 439,300 C440.2,299.1 440.8,298.2 441.5,298 C442.2,297.8 443,298.4 443.5,299 C444,299.6 443.9,301.2 444.5,301.5 C445.1,301.8 446.3,300.7 447,301 C447.7,301.3 447.8,303.2 448.5,303.5 C449.2,303.8 450.3,302.7 451,303 C451.7,303.3 451.8,305.1 452.5,305.5 C453.2,305.9 454.3,305.2 455,305.5 C455.7,305.8 455.8,307.1 456.5,307.5 C457.2,307.9 458.7,307.6 459.5,308 C460.3,308.4 460.8,309.4 461.5,310 C462.2,310.6 463.2,310.7 463.5,311.5 C463.8,312.3 463.8,313.8 463.5,315 C463.2,316.2 462.8,317.8 462,319 C461.2,320.2 460.3,321.5 459,322.5 C457.7,323.5 455.7,324.6 454,325 C452.3,325.4 451,325.3 449,325 C447,324.7 445.2,324.2 442,323 C438.8,321.8 432.2,318.7 430,318 C427.8,317.3 429.2,318.8 429,319"/>
<path class="f" d="M420.7,303.9 L423.6,299.9 L432.1,298.7 L434.7,304 L429.9,307.3 L429.2,318.8 L420.1,314.1Z"/>
<path class="l" d="M420.7,303.9 L429.9,307.3"/>
<ellipse cx="424.9" cy="310.3" rx="2.1" ry="2.3" fill="#fff" stroke="#1c1c1c" stroke-width="1.5"/>
<path d="M434.5,307.5 L436.5,306 L438,308.5 L440.5,307 L442.5,310 L444.5,308.5 L446.5,311.5 L449,310.5 L450.5,313.5 L453,312.5 L454.5,315 L457.5,314.5 L460,312.5" fill="none" stroke="#222" stroke-width="1.5"/>
<path d="M435,309.5 L438,311 L439.5,313.5 L442.5,313 L444,315.5 L446.5,315 L448.5,317.5 L451.5,317 L453,319 L456,318 L460,315" fill="none" stroke="#222" stroke-width="1.5"/>
<ellipse class="k" cx="442.5" cy="311.5" rx="1.3" ry="1" transform="rotate(30 442.5 311.5)"/>
<ellipse class="k" cx="446.2" cy="313.2" rx="1.3" ry="1" transform="rotate(30 446.2 313.2)"/>
<ellipse class="k" cx="449.8" cy="315" rx="1.3" ry="1" transform="rotate(30 449.8 315)"/>
<ellipse class="k" cx="453.5" cy="316.2" rx="1.3" ry="1" transform="rotate(30 453.5 316.2)"/>
<path class="l" d="M439,300 C439.4,300.3 440.8,301.2 441.5,302 C442.2,302.8 442.8,304.5 443,305"/>
<g transform="translate(280 228)">
<path class="l" d="M198.5,61.5 C198.8,60.9 199.2,58.9 200,58 C200.8,57.1 201.8,56.4 203,56 C204.2,55.6 206.3,55.4 207.5,55.5 C208.7,55.6 209.2,56 210,56.5 C210.8,57 211.2,57.9 212,58.5 C212.8,59.1 214.1,59.6 215,60 C215.9,60.4 216.7,60.5 217.5,61 C218.3,61.5 219.1,62.3 220,63 C220.9,63.7 221.7,64.6 223,65 C224.3,65.4 227,65.2 228,65.5 C229,65.8 228.9,65.9 229,66.5 C229.1,67.1 229.1,68.1 228.8,69 C228.5,69.9 227.8,71.2 227,72 C226.2,72.8 224.8,73.8 224,74 C223.2,74.2 222.4,73.9 222,73.5 C221.6,73.1 221.6,71.8 221.5,71.5"/>
<path class="l" d="M198.5,61.5 L199,64.5 L200,66.5 L199.5,70.5 L199,72 L200,73.5 L201.5,69.5 L203.5,68.5 L204.5,65.5 L206,66.5 L213,71 L213.5,74 L212.5,79.5 L213.5,81 L215,78 L216.5,76.5 L217.5,73.5 L219.5,75 L221.5,74 L221.5,66.5 L228,65.5"/>
<path d="M203.8,56.8 L206.8,60" fill="none" stroke="#222" stroke-width="1.8"/>
<path d="M207.8,57.8 L210.8,61.5" fill="none" stroke="#222" stroke-width="1.8"/>
<path d="M211.5,59.8 L214.3,63.5" fill="none" stroke="#222" stroke-width="1.8"/>
<path d="M215,61.5 L218,65.2" fill="none" stroke="#222" stroke-width="1.8"/>
<path d="M218.8,63.5 L221.5,66.5" fill="none" stroke="#222" stroke-width="1.8"/>
<path class="l" d="M201.5,59 L205,61 L219,67.8"/>
<path class="t" d="M202.5,57.5 L220,65.5"/>
<path class="l" d="M224,74 L223.5,68.5 L228.8,67.5"/>
</g>
<path d="M509,333 C508.3,332.8 506.1,332.8 505,332 C503.9,331.2 502.6,329.4 502.4,328 C502.2,326.6 502.9,324.5 504,323.6 C505.1,322.7 506.5,322.5 509,322.4 C511.5,322.3 517.3,322.9 519,323" fill="none" stroke="#1c1c1c" stroke-width="2.4"/>
<path d="M509,333 C508.3,332.8 506.1,332.8 505,332 C503.9,331.2 502.6,329.4 502.4,328 C502.2,326.6 502.9,324.5 504,323.6 C505.1,322.7 506.5,322.5 509,322.4 C511.5,322.3 517.3,322.9 519,323" fill="none" stroke="#fff" stroke-width="0.6"/>
<path d="M551,331.6 C553.3,331.6 562,332.2 565,331.6 C568,331 568.6,329.4 569.2,328 C569.8,326.6 569.1,324.3 568.4,323.2 C567.7,322.1 566,321.6 564.8,321.4 C563.6,321.2 561.8,322.1 561.2,322.2" fill="none" stroke="#1c1c1c" stroke-width="2.4"/>
<path d="M551,331.6 C553.3,331.6 562,332.2 565,331.6 C568,331 568.6,329.4 569.2,328 C569.8,326.6 569.1,324.3 568.4,323.2 C567.7,322.1 566,321.6 564.8,321.4 C563.6,321.2 561.8,322.1 561.2,322.2" fill="none" stroke="#fff" stroke-width="0.6"/>
<ellipse cx="520.4" cy="327.6" rx="1.9" ry="5.3" transform="rotate(-8 520.4 327.6)" fill="none" stroke="#2a2a2a" stroke-width="0.85"/>
<ellipse cx="522.5" cy="327.6" rx="1.9" ry="5.3" transform="rotate(-8 522.5 327.6)" fill="none" stroke="#2a2a2a" stroke-width="0.85"/>
<ellipse cx="524.7" cy="327.6" rx="1.9" ry="5.3" transform="rotate(-8 524.7 327.6)" fill="none" stroke="#2a2a2a" stroke-width="0.85"/>
<ellipse cx="526.8" cy="327.6" rx="1.9" ry="5.3" transform="rotate(-8 526.8 327.6)" fill="none" stroke="#2a2a2a" stroke-width="0.85"/>
<ellipse cx="529" cy="327.6" rx="1.9" ry="5.3" transform="rotate(-8 529 327.6)" fill="none" stroke="#2a2a2a" stroke-width="0.85"/>
<ellipse cx="531.1" cy="327.6" rx="1.9" ry="5.3" transform="rotate(-8 531.1 327.6)" fill="none" stroke="#2a2a2a" stroke-width="0.85"/>
<ellipse cx="533.3" cy="327.6" rx="1.9" ry="5.3" transform="rotate(-8 533.3 327.6)" fill="none" stroke="#2a2a2a" stroke-width="0.85"/>
<ellipse cx="535.4" cy="327.6" rx="1.9" ry="5.3" transform="rotate(-8 535.4 327.6)" fill="none" stroke="#2a2a2a" stroke-width="0.85"/>
<ellipse cx="537.6" cy="327.6" rx="1.9" ry="5.3" transform="rotate(-8 537.6 327.6)" fill="none" stroke="#2a2a2a" stroke-width="0.85"/>
<ellipse cx="539.7" cy="327.6" rx="1.9" ry="5.3" transform="rotate(-8 539.7 327.6)" fill="none" stroke="#2a2a2a" stroke-width="0.85"/>
<ellipse cx="541.9" cy="327.6" rx="1.9" ry="5.3" transform="rotate(-8 541.9 327.6)" fill="none" stroke="#2a2a2a" stroke-width="0.85"/>
<ellipse cx="544" cy="327.6" rx="1.9" ry="5.3" transform="rotate(-8 544 327.6)" fill="none" stroke="#2a2a2a" stroke-width="0.85"/>
<ellipse cx="546.2" cy="327.6" rx="1.9" ry="5.3" transform="rotate(-8 546.2 327.6)" fill="none" stroke="#2a2a2a" stroke-width="0.85"/>
<ellipse cx="548.3" cy="327.6" rx="1.9" ry="5.3" transform="rotate(-8 548.3 327.6)" fill="none" stroke="#2a2a2a" stroke-width="0.85"/>
<path class="f" d="M482,332.4 C483.1,330.8 485.8,329.8 488,329.6 C490.2,329.4 492.8,330 495,331 C497.2,332 499.2,334.1 501,335.6 C502.8,337.1 504.8,338.4 506,340 C507.2,341.6 508.2,343.7 508,345 C507.8,346.3 506.5,347.5 505,348 C503.5,348.5 500.7,348.3 499,348 C497.3,347.7 497.3,346.8 495,346 C492.7,345.2 487.2,344.2 485,343 C482.8,341.8 482.1,340.8 481.6,339 C481.1,337.2 480.9,334 482,332.4Z"/>
<path class="l" d="M481.6,337.6 C482,338.3 481.8,340.4 484,341.6 C486.2,342.8 492.5,343.8 495,344.6 C497.5,345.4 497.3,346.3 499,346.6 C500.7,346.9 503.5,347 505,346.6 C506.5,346.2 507.5,344.4 508,344"/>
<ellipse class="l" cx="489.4" cy="335.6" rx="2.5" ry="1.7" transform="rotate(15 489.4 335.6)"/>
<ellipse class="l" cx="501.6" cy="342.4" rx="2.5" ry="1.7" transform="rotate(15 501.6 342.4)"/>
<path class="f" d="M482.4,354.1 L477.9,358.4 L472.4,356.1 L471.4,349.5 L475.9,345.2 L481.4,347.5Z"/>
<path class="f" d="M484.4,353.7 L479.9,358 L474.4,355.7 L473.4,349.1 L477.9,344.8 L483.4,347.1Z"/>
<ellipse cx="479.3" cy="351.4" rx="2.7" ry="3.5" fill="#ddd" stroke="#1c1c1c" stroke-width="1.5"/>
<ellipse class="f" cx="466" cy="359.2" rx="5.3" ry="7" transform="rotate(-25 466 359.2)"/>
<ellipse cx="465" cy="358.7" rx="5.3" ry="7" transform="rotate(-25 465 358.7)" fill="#fff" stroke="#1c1c1c" stroke-width="1.2"/>
<ellipse cx="465" cy="358.7" rx="3.2" ry="4.2" transform="rotate(-25 465 358.7)" fill="#fff" stroke="#1c1c1c" stroke-width="1.2"/>
<ellipse cx="465.4" cy="358.9" rx="1.7" ry="2.5" transform="rotate(-25 465 358.7)" fill="none" stroke="#333" stroke-width="0.7"/>
<path class="l" d="M433.5,371.8 C433.2,372.5 432.6,375.3 431.7,375.7 C430.7,376.2 428.4,375.3 427.8,374.4 C427.1,373.6 427.1,371.8 427.8,370.5 C428.4,369.2 430.4,367.4 431.7,366.7 C433,365.9 434.2,365.4 435.5,365.9 C436.8,366.3 437.7,367 439.4,369.2 C441.2,371.5 439.9,373.1 445.9,379.6 C451.9,386.1 470.5,402.9 475.7,408.1 C480.9,413.3 476.8,410.3 477,410.7"/>
<path class="l" d="M477,410.7 C476.9,410.2 476.1,408.4 476.5,407.6 C476.8,406.8 478.2,405.9 479.1,406 C479.9,406.1 481.5,407 481.6,408.1 C481.8,409.2 480.3,411.5 480.1,412.5 C479.8,413.5 480.1,413.8 480.1,414.1"/>
<path class="l" d="M480.1,414.1 C485.2,416.7 499.9,424.8 510.7,430.1 C521.4,435.4 537,442.5 544.3,445.7 C551.7,448.8 551.9,447.5 554.7,448.8 C557.5,450 559.2,451 561.2,452.9 C563.1,454.8 565.5,458.7 566.3,459.9"/>
<path class="l" d="M427.8,374.4 C428.2,375.1 428.2,375.9 430.4,378.3 C432.5,380.7 434.7,382.6 440.7,388.7 C446.8,394.7 461,409.2 466.6,414.6 C472.2,420 469.2,417.8 474.4,421 C479.6,424.3 488.6,428.8 497.7,434 C506.8,439.2 519.7,446.9 528.8,452.1 C537.8,457.3 547.1,462.3 552.1,465.1 C557.1,467.9 557.5,468.3 558.6,469"/>
<ellipse class="l" cx="432.2" cy="370" rx="1.6" ry="2"/>
<ellipse cx="565.7" cy="466.2" rx="3.4" ry="11.6" transform="rotate(37 565.7 466.2)" fill="#fff" stroke="#1c1c1c" stroke-width="1.5"/>
<path class="l" d="M545.6,448.2 C547.6,449 554.6,451.4 557.3,452.9 C560,454.4 561.2,456.6 561.9,457.3"/>
<path class="l" d="M549.5,450.3 L557.3,454.7"/>
<path class="f" d="M382.1,327.9 L401.7,320.9 L399.9,315.7 L380.3,322.7Z"/>
<path d="M391.9,324.4 L390.6,319 M393.1,324 L391.8,318.5 M394.3,323.6 L393,318.1 M395.5,323.2 L394.2,317.7 M396.7,322.8 L395.3,317.3 M397.8,322.3 L396.5,316.9 M399,321.9 L397.7,316.4 M400.2,321.5 L398.9,316 M401.4,321.1 L400,315.6 " fill="none" stroke="#222" stroke-width="0.9"/>
<path class="f" d="M387.9,325.5 L384.9,329.3 L380.2,328.4 L378.6,323.7 L381.7,319.9 L386.3,320.7Z"/>
<path class="f" d="M385.9,326.2 L382.8,330 L378.1,329.1 L376.5,324.4 L379.6,320.6 L384.3,321.5Z"/>
<path class="f" d="M402.1,406.6 L425.3,391.4 L422.1,386.6 L398.9,401.8Z"/>
<path d="M416.5,397.2 L413.8,392 M417.5,396.5 L414.8,391.3 M418.6,395.8 L415.9,390.7 M419.6,395.1 L416.9,390 M420.7,394.5 L418,389.3 M421.7,393.8 L419,388.6 M422.7,393.1 L420.1,387.9 M423.8,392.4 L421.1,387.2 M424.8,391.7 L422.2,386.5 " fill="none" stroke="#222" stroke-width="0.9"/>
<ellipse class="f" cx="402.3" cy="403" rx="3.6" ry="5.2" transform="rotate(-33.2 402.3 403)"/>
<ellipse class="f" cx="400.5" cy="404.2" rx="4.2" ry="5.6" transform="rotate(-33.2 400.5 404.2)"/>
<ellipse class="l" cx="400.2" cy="404.4" rx="2.2" ry="3.2" transform="rotate(-33.2 400.2 404.4)"/>
<path class="f" d="M372.3,370.5 L328.4,357 L326.6,362.6 L370.6,376.1Z"/>
<path d="M337,359.7 L334.7,365 M335.8,359.3 L333.5,364.7 M334.6,358.9 L332.3,364.3 M333.4,358.6 L331.1,363.9 M332.2,358.2 L329.9,363.6 M331,357.8 L328.7,363.2 M329.8,357.5 L327.5,362.8 " fill="none" stroke="#222" stroke-width="0.9"/>
<ellipse class="f" cx="371.5" cy="373.3" rx="4" ry="6" transform="rotate(-162.9 371.5 373.3)"/>
<path d="M373.2,367.6 L381.4,370.1 L377.8,381.5 L369.7,379Z" fill="#fff" stroke="none"/>
<path class="l" d="M373.2,367.6 L381.4,370.1 M369.7,379 L377.8,381.5"/>
<ellipse class="f" cx="379.6" cy="375.8" rx="4" ry="6" transform="rotate(-162.9 379.6 375.8)"/>
<ellipse cx="379.6" cy="375.8" rx="1.8" ry="2.7" transform="rotate(-162.928187407018 379.6 375.8)" fill="#fff" stroke="#1c1c1c" stroke-width="1.0"/>
<path class="f" d="M334.5,387.4 L295.3,375.4 L293.7,381 L332.8,392.9Z"/>
<path d="M304,378 L301.7,383.4 M302.8,377.7 L300.5,383.1 M301.6,377.3 L299.3,382.7 M300.4,377 L298.1,382.3 M299.2,376.6 L296.9,382 M298,376.2 L295.7,381.6 M296.8,375.9 L294.5,381.2 " fill="none" stroke="#222" stroke-width="0.9"/>
<ellipse class="f" cx="333.7" cy="390.1" rx="4" ry="6" transform="rotate(-163.1 333.7 390.1)"/>
<path d="M335.4,384.4 L343.5,386.9 L340.1,398.3 L331.9,395.9Z" fill="#fff" stroke="none"/>
<path class="l" d="M335.4,384.4 L343.5,386.9 M331.9,395.9 L340.1,398.3"/>
<ellipse class="f" cx="341.8" cy="392.6" rx="4" ry="6" transform="rotate(-163.1 341.8 392.6)"/>
<ellipse cx="341.8" cy="392.6" rx="1.8" ry="2.7" transform="rotate(-163.06766689889002 341.8 392.6)" fill="#fff" stroke="#1c1c1c" stroke-width="1.0"/>
<ellipse class="f" cx="315" cy="354.1" rx="4.8" ry="7" transform="rotate(12 315 354.1)"/>
<ellipse cx="316" cy="354.4" rx="4.8" ry="7" transform="rotate(12 316 354.4)" fill="#fff" stroke="#1c1c1c" stroke-width="1.2"/>
<ellipse cx="316" cy="354.4" rx="2.8" ry="4.1" transform="rotate(12 316 354.4)" fill="#fff" stroke="#1c1c1c" stroke-width="1.2"/>
<ellipse cx="316.4" cy="354.6" rx="1.5" ry="2.4" transform="rotate(12 316 354.4)" fill="none" stroke="#333" stroke-width="0.7"/>
<ellipse class="f" cx="283" cy="372.1" rx="5" ry="7" transform="rotate(12 283 372.1)"/>
<ellipse cx="284" cy="372.4" rx="5" ry="7" transform="rotate(12 284 372.4)" fill="#fff" stroke="#1c1c1c" stroke-width="1.2"/>
<ellipse cx="284" cy="372.4" rx="2.9" ry="4.1" transform="rotate(12 284 372.4)" fill="#fff" stroke="#1c1c1c" stroke-width="1.2"/>
<ellipse cx="284.4" cy="372.6" rx="1.6" ry="2.4" transform="rotate(12 284 372.4)" fill="none" stroke="#333" stroke-width="0.7"/>
<path class="f" d="M244.3,333 L239.9,337.4 L234.5,335.1 L233.5,328.4 L237.9,324 L243.3,326.3Z"/>
<path class="f" d="M246.3,332.6 L241.9,337 L236.5,334.7 L235.5,328 L239.9,323.6 L245.3,325.9Z"/>
<ellipse cx="241.3" cy="330.3" rx="2.6" ry="3.5" fill="#ddd" stroke="#1c1c1c" stroke-width="1.5"/>
<ellipse class="f" cx="260" cy="335.3" rx="5" ry="7" transform="rotate(12 260 335.3)"/>
<ellipse cx="261" cy="335.6" rx="5" ry="7" transform="rotate(12 261 335.6)" fill="#fff" stroke="#1c1c1c" stroke-width="1.2"/>
<ellipse cx="261" cy="335.6" rx="2.9" ry="4.1" transform="rotate(12 261 335.6)" fill="#fff" stroke="#1c1c1c" stroke-width="1.2"/>
<ellipse cx="261.4" cy="335.8" rx="1.6" ry="2.4" transform="rotate(12 261 335.6)" fill="none" stroke="#333" stroke-width="0.7"/>
<path class="f" d="M210.5,345.5 L206.1,349.9 L200.7,347.6 L199.7,340.9 L204.1,336.5 L209.5,338.8Z"/>
<path class="f" d="M212.5,345.1 L208.1,349.5 L202.7,347.2 L201.7,340.5 L206.1,336.1 L211.5,338.4Z"/>
<ellipse cx="207.5" cy="342.8" rx="2.6" ry="3.5" fill="#ddd" stroke="#1c1c1c" stroke-width="1.5"/>
<ellipse class="f" cx="228.5" cy="351.5" rx="5" ry="7" transform="rotate(12 228.5 351.5)"/>
<ellipse cx="229.5" cy="351.8" rx="5" ry="7" transform="rotate(12 229.5 351.8)" fill="#fff" stroke="#1c1c1c" stroke-width="1.2"/>
<ellipse cx="229.5" cy="351.8" rx="2.9" ry="4.1" transform="rotate(12 229.5 351.8)" fill="#fff" stroke="#1c1c1c" stroke-width="1.2"/>
<ellipse cx="229.9" cy="352" rx="1.6" ry="2.4" transform="rotate(12 229.5 351.8)" fill="none" stroke="#333" stroke-width="0.7"/>
<path class="t" d="M129.8,404.3 L164.7,391.9 L194.3,399.5 L216.6,415.3 L242.6,441.3 L207.3,460.8 L190,451.5 L170.5,440.5 Q157,433.5 148.7,425.6 Q140,415.5 129.8,404.3 Z"/>
<path class="g" d="M133,405.1 L164.6,395.8 L192.4,402.7"/>
<path class="g" d="M198,453.4 L209.1,458 L238.8,442.2"/>
<path class="g" d="M137.6,407.9 L164.6,399.5"/>
<g stroke-dasharray="1.5 1">
<path class="g" d="M201.7,450.6 L233.3,435.7"/>
<path class="g" d="M138.6,409.7 L157.1,404.1"/>
</g>
<path d="M149.7,411.2 C149.7,410.1 150.3,409.2 151.7,408.6 C153.1,408 156,407.1 158.1,407.3 C160.3,407.5 162.7,408.7 164.6,409.9 C166.5,411.1 168.6,412.8 169.8,414.4 C171,416 171.8,418.2 171.7,419.6 C171.6,421 170.5,422.3 169.1,422.8 C167.7,423.4 165.4,423.4 163.3,422.8 C161.3,422.3 158.8,420.9 156.8,419.6 C154.9,418.3 152.8,416.5 151.7,415.1 C150.5,413.7 149.7,412.3 149.7,411.2Z" fill="#fff" stroke="#222" stroke-width="1.4"/>
<ellipse class="t" cx="160.7" cy="415.1" rx="8.2" ry="3.6" transform="rotate(32 160.7 415.1)"/>
<ellipse class="t" cx="160.7" cy="415.1" rx="6.3" ry="2.5" transform="rotate(32 160.7 415.1)"/>
<ellipse class="t" cx="160.7" cy="415.1" rx="4.2" ry="1.3" transform="rotate(32 160.7 415.1)"/>
<path class="t" d="M169.1,422.8 C169.7,423.3 171.3,424.7 172.4,425.4 C173.5,426.2 175.1,427.1 175.6,427.4"/>
<circle cx="159.4" cy="428" r="3.6" fill="#fff" stroke="#222" stroke-width="1.7"/>
<circle cx="159.4" cy="428" r="1.6" fill="none" stroke="#222" stroke-width="0.8"/>
<circle cx="165.9" cy="435.1" r="2.3" fill="#fff" stroke="#555" stroke-width="0.8"/>
<circle cx="176.3" cy="436.4" r="4.2" fill="#fff" stroke="#222" stroke-width="1.8"/>
<circle cx="176.3" cy="436.4" r="2" fill="none" stroke="#222" stroke-width="0.8"/>
<path class="ft" d="M172.4,422.8 L173.9,425.4 L176.9,425.8 L175,428 L175.6,431 L172.6,429.7 L170,431.3 L170.6,428.4 L168.5,426.1 L171.3,425.6Z"/>
<path class="ft" d="M176.3,416.4 C174.6,416.7 174.6,417.9 174.3,419 C174.1,420 172.9,421.2 174.7,422.8 C176.5,424.5 182.8,428.7 185.3,428.9 C187.9,429.1 189.2,425.8 189.9,424.1 C190.5,422.5 190.2,420.1 189.2,419 C188.2,417.8 186.2,417.4 184,417 C181.9,416.6 177.9,416 176.3,416.4Z"/>
<ellipse class="t" cx="175.6" cy="419.6" rx="1.6" ry="3.2" transform="rotate(15 175.6 419.6)"/>
<path class="t" d="M178.9,417.3 L179.1,425"/>
<path class="t" d="M181.4,417.3 L181.7,426.7"/>
<path class="ft" d="M191.8,423.5 C193.1,421.9 199.8,421.7 202.2,421.5 C204.5,421.4 205.2,421.9 206,422.8 C206.9,423.8 207.4,426 207.3,427.4 C207.2,428.8 206.5,430.4 205.4,431.3 C204.3,432.1 202.7,432.6 200.9,432.6 C199,432.6 195.9,432.8 194.4,431.3 C192.9,429.7 190.5,425.1 191.8,423.5Z"/>
<ellipse class="ft" cx="204.1" cy="427.1" rx="2.8" ry="4.9" transform="rotate(10 204.1 427.1)"/>
<path class="ft" d="M188.6,419.6 C190.4,416.8 195,412.9 197,411.8 C198.9,410.8 199.6,412.3 200.2,413.1 C200.9,414 201.3,415.7 200.9,417 C200.4,418.3 198.7,418.3 197.6,420.9 C196.5,423.5 195.5,430 194.4,432.6 C193.3,435.1 192.2,435.6 191.2,436.4 C190.1,437.3 188.9,438 187.9,437.7 C186.9,437.5 185.6,436.7 185.3,435.1 C185,433.6 185.4,431.3 186,428.7 C186.5,426.1 186.7,422.4 188.6,419.6Z"/>
<path class="t" d="M190.8,420.9 C192.2,418.6 196.1,415.1 197,415.1 C197.8,415.1 196.6,418.1 195.9,420.9 C195.3,423.7 194.1,429.6 192.8,431.9 C191.6,434.2 189.3,435 188.6,434.5 C187.8,434 187.8,431.2 188.2,428.9 C188.5,426.7 189.3,423.2 190.8,420.9Z"/>
<ellipse class="t" cx="198.5" cy="414.4" rx="1.1" ry="1.1"/>
<ellipse class="t" cx="188.2" cy="435.4" rx="1.1" ry="1.1"/>
<circle cx="191.8" cy="406" r="4.3" fill="#fff" stroke="#333" stroke-width="0.9"/>
<path class="t" d="M188.6,404.1 C187.6,404.1 183.9,403.9 182.7,404.3 C181.5,404.8 181.3,405.9 181.4,406.7 C181.5,407.4 182.1,408.7 183.4,409 C184.6,409.3 188,408.7 189,408.6"/>
<path class="t" d="M183.4,404.3 L183.8,408.7"/>
<path class="t" d="M184.9,404.3 L185.3,408.7"/>
<path class="t" d="M186.5,404.3 L186.9,408.7"/>
<circle cx="193.4" cy="442.9" r="3.6" fill="#fff" stroke="#333" stroke-width="0.9"/>
<path class="t" d="M190.5,440.6 C189.5,440.4 185.9,439.5 184.7,439.7 C183.4,439.9 183,441.1 183,441.9 C183,442.7 183.5,443.9 184.7,444.5 C185.9,445 189.3,445.1 190.2,445.2"/>
<path class="t" d="M184.9,439.9 L185.2,444.9"/>
<path class="t" d="M186.5,439.9 L186.7,444.9"/>
<path class="t" d="M188,439.9 L188.3,444.9"/>
<path class="t" d="M204.8,417.7 C205.5,417 208.7,417.6 209.9,417 C211.1,416.5 211,414.5 211.9,414.4 C212.7,414.3 214.4,415.4 215.1,416.4 C215.9,417.3 216.7,419.2 216.4,420.3 C216.1,421.3 214.1,422.6 213.2,422.8 C212.2,423.1 211.9,421.9 210.6,421.5 C209.3,421.2 206.4,421.5 205.4,420.9 C204.4,420.3 204,418.3 204.8,417.7Z"/>
<path class="t" d="M197.6,439 C198.4,438.5 201.6,439.2 202.8,439 C204,438.8 203.9,437.6 204.8,437.7 C205.6,437.8 207.3,438.8 208,439.7 C208.6,440.6 209.1,442.3 208.6,443.2 C208.2,444 206.3,444.9 205.4,444.9 C204.5,444.9 204.6,443.6 203.5,443.2 C202.3,442.7 199.2,443 198.3,442.3 C197.3,441.6 196.9,439.6 197.6,439Z"/>
<path class="t" d="M207.3,415.7 L208,422.8"/>
<path class="t" d="M200.2,438.4 L200.9,444.2"/>
<path class="t" d="M169.8,405.4 L178.9,411.8"/>
<path class="t" d="M171.1,404.1 L180.1,410.5"/>
<path class="t" d="M177.6,403.4 L173,413.1"/>
<path class="t" d="M179.1,404.3 L174.7,413.8"/>
<path class="t" d="M169.1,408 L172.4,406"/>
<path class="t" d="M176.9,413.1 L180.1,411.2"/>
<path class="t" d="M214.5,420.9 C215.2,422.2 218.5,426.1 219,428.7 C219.5,431.3 218.8,434.3 217.7,436.4 C216.6,438.6 214.2,440.4 212.5,441.6 C210.8,442.8 208.2,443.2 207.3,443.6"/>
<text x="144.2" y="130.6" font-size="10.1">11</text>
<text x="137.7" y="148.2" font-size="10.1">14</text>
<text x="131.8" y="194.7" font-size="11.7">16</text>
<text x="126.2" y="242.9" font-size="10.3">19</text>
<text x="124" y="259.7" font-size="10.3">14</text>
<text x="127.2" y="276.5" font-size="10.3">11</text>
<text x="223.5" y="260.3" font-size="10.5">1</text>
<text x="187.5" y="84.9" font-size="11.2">32</text>
<text x="288.7" y="64" font-size="11.2">30</text>
<text x="280.6" y="84.9" font-size="11.2">20</text>
<text x="204.7" y="122.6" font-size="10.5">33</text>
<text x="245.3" y="138.9" font-size="11.3">24</text>
<text x="472.8" y="137.9" font-size="12">29</text>
<text x="508.8" y="144.9" font-size="12">5</text>
<text x="499.3" y="151.5" font-size="12">3</text>
<text x="484.8" y="161.4" font-size="12">2</text>
<text x="485.4" y="197.6" font-size="11">31</text>
<text x="445.1" y="210.6" font-size="10.5">4</text>
<text x="475" y="248.9" font-size="10.4">17</text>
<text x="505.5" y="263" font-size="10.4">15</text>
<text x="539.6" y="265.7" font-size="10.4">3</text>
<text x="571.9" y="269.8" font-size="10.4">7</text>
<text x="413.4" y="270" font-size="11.1">22</text>
<text x="395.7" y="312.7" font-size="11.1">25</text>
<text x="446" y="289.7" font-size="11.1">3</text>
<text x="457.5" y="285.4" font-size="11.1">5</text>
<text x="476.3" y="312.7" font-size="11.1">21</text>
<text x="429.5" y="330.9" font-size="11.1">6</text>
<text x="529.2" y="345.8" font-size="10.5">10</text>
<text x="495.5" y="363" font-size="10.5">28</text>
<text x="475.1" y="369.8" font-size="10.5">13</text>
<text x="463.1" y="378" font-size="10.5">3</text>
<text x="314.8" y="345.1" font-size="10.7">3</text>
<text x="340.7" y="380.3" font-size="10.7">18</text>
<text x="269" y="389.5" font-size="10.7">23</text>
<text x="305.5" y="399" font-size="10.7">26</text>
<text x="373.3" y="339.5" font-size="10.7">4</text>
<text x="237.3" y="322.2" font-size="11.3">8</text>
<text x="259.9" y="326.7" font-size="11.3">3</text>
<text x="191.8" y="360.7" font-size="11.3">27</text>
<text x="213.3" y="369.2" font-size="11.3">23</text>
<text x="386.4" y="421.1" font-size="10.6">12</text>
<text x="467.5" y="439.7" font-size="10.6">9</text>
<text x="135" y="441.3" font-size="10">34</text>
</svg>
</body></html>
